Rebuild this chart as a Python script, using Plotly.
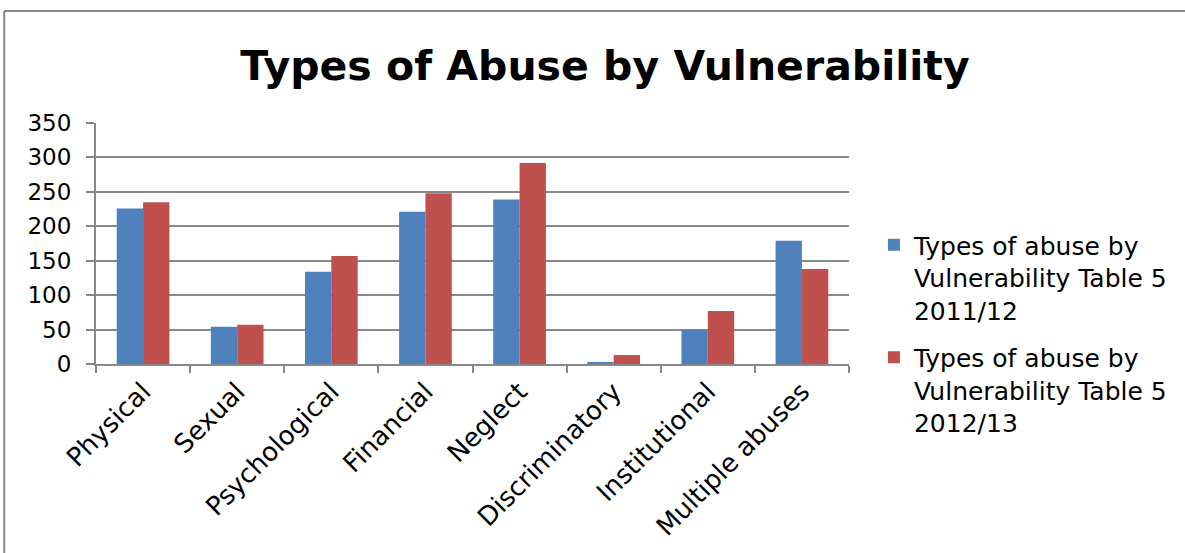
import plotly.graph_objects as go

categories = ["Physical", "Sexual", "Psychological", "Financial", "Neglect",
              "Discriminatory", "Institutional", "Multiple abuses"]
series_2011 = [226, 54, 134, 221, 239, 3, 50, 179]
series_2012 = [235, 57, 157, 248, 292, 13, 77, 138]
name_2011 = "Types of abuse by<br>Vulnerability Table 5<br>2011/12"
name_2012 = "Types of abuse by<br>Vulnerability Table 5<br>2012/13"
y_ticks = [0, 50, 100, 150, 200, 250, 300, 350]

FONT = "DejaVu Sans"
W, H = 1185, 553
L, R, T, B = 96, 851, 123, 364

fig = go.Figure()
fig.add_trace(go.Bar(x=categories, y=series_2011, name=name_2011, legendgroup="a",
                     marker=dict(color="#4F81BD", line=dict(width=0))))
fig.add_trace(go.Bar(x=categories, y=series_2012, name=name_2012, legendgroup="b",
                     marker=dict(color="#C0504D", line=dict(width=0))))

pw, ph = R - L, B - T
def px_x(p):
    return (p - L) / pw
def px_y(p):
    return (B - p) / ph

fig.update_layout(
    width=W, height=H,
    margin=dict(l=L, r=W - R, t=T, b=H - B, pad=0),
    paper_bgcolor="white", plot_bgcolor="white",
    barmode="group", bargap=0.44, bargroupgap=0,
    font=dict(family=FONT, color="black", size=22),
    title=dict(text="<b>Types of Abuse by Vulnerability</b>",
               x=605 / W, xanchor="center", xref="container",
               y=1 - 66 / H, yanchor="middle", yref="container",
               font=dict(family=FONT, size=41, color="black")),
    xaxis=dict(type="category", tickangle=-45, tickson="boundaries",
               ticks="outside", ticklen=7, tickcolor="#888888", tickwidth=2,
               showline=True, linecolor="#888888", linewidth=2,
               showgrid=False, tickfont=dict(size=26, family=FONT)),
    yaxis=dict(range=[0, 350], tickvals=y_ticks, ticks="outside", ticklen=8,
               tickcolor="#888888", tickwidth=2, ticklabelstandoff=10,
               showline=True, linecolor="#888888", linewidth=2,
               showgrid=True, gridcolor="#888888", gridwidth=2,
               zeroline=False, tickfont=dict(size=23, family=FONT)),
    legend=dict(x=px_x(876), y=px_y(222), xanchor="left", yanchor="top",
                font=dict(size=25, family=FONT), tracegroupgap=12,
                valign="top", itemwidth=30,
                bgcolor="rgba(0,0,0,0)", itemsizing="constant"),
    showlegend=True,
    shapes=[
        dict(type="line", xref="paper", yref="paper",
             x0=px_x(4), x1=px_x(1190), y0=px_y(11), y1=px_y(11),
             line=dict(color="#888888", width=2)),
        dict(type="line", xref="paper", yref="paper",
             x0=px_x(4), x1=px_x(4), y0=px_y(11), y1=px_y(560),
             line=dict(color="#888888", width=2)),
    ],
)

fig.write_html("out.html")
